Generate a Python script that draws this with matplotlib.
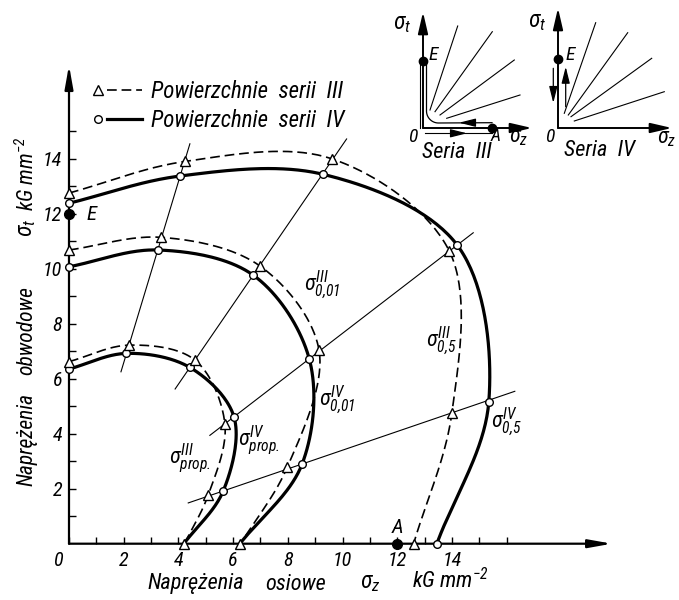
import numpy as np
import matplotlib
matplotlib.use("Agg")
import matplotlib.pyplot as plt
from matplotlib import font_manager
from matplotlib.lines import Line2D
from matplotlib.legend_handler import HandlerBase

# ---------------------------------------------------------------- data
# yield surfaces (sigma_z, sigma_t) in kG/mm^2, series III (triangles) and IV (circles)
prop_III_x = [0.0, 2.2, 4.6, 5.7, 5.09, 4.22]
prop_III_y = [6.62, 7.22, 6.68, 4.35, 1.77, 0.0]
prop_IV_x = [0.0, 2.1, 4.42, 6.03, 5.64, 4.2]
prop_IV_y = [6.35, 6.92, 6.41, 4.62, 1.92, 0.0]

p001_III_x = [0.0, 3.36, 6.98, 9.14, 7.98, 6.27]
p001_III_y = [10.68, 11.14, 10.1, 7.05, 2.78, 0.0]
p001_IV_x = [0.0, 3.24, 6.73, 8.79, 8.52, 6.25]
p001_IV_y = [10.07, 10.68, 9.77, 6.7, 2.89, 0.0]

p05_III_x = [0.0, 4.24, 9.6, 13.9, 14.0, 12.6]
p05_III_y = [12.75, 13.9, 14.0, 10.65, 4.76, 0.0]
p05_IV_x = [0.0, 4.06, 9.3, 14.2, 15.35, 13.45]
p05_IV_y = [12.38, 13.37, 13.43, 10.85, 5.17, 0.0]

# radial loading paths: slope sigma_t/sigma_z and drawn extent in sigma_z
ray_slopes = [3.29, 1.45, 0.765, 0.34]
ray_x_from = [1.9, 3.88, 5.15, 4.36]
ray_x_to = [4.42, 10.15, 14.78, 16.3]

point_E = (0.0, 12.0)
point_A = (12.0, 0.0)

x_major = [0, 2, 4, 6, 8, 10, 12, 14]
x_minor = [1, 3, 5, 7, 9, 11, 13, 15, 16]
y_major = [2, 4, 6, 8, 10, 12, 14]
y_minor = [1, 3, 5, 7, 9, 11, 13, 15]

# schematic insets (units: sketch coordinates, origin at the corner)
inset_III_rays = [(7, 18, 34.7, 102), (12, 16.3, 69.3, 96.3),
                  (17, 13, 91.3, 68), (23.7, 9.7, 97, 33)]
inset_IV_rays = [(6.3, 14.7, 37.7, 105.3), (10.3, 13, 69.7, 95.3),
                 (13, 11.3, 93.7, 69.7), (16.3, 7, 106.3, 36.3)]

# ---------------------------------------------------------------- style
fonts = font_manager.fontManager.ttflist
names = {f.name for f in fonts}
STRETCH = "normal"
if "Liberation Sans Narrow" in names:
    FAM = "Liberation Sans Narrow"
elif "Roboto Condensed" in names:
    FAM = "Roboto Condensed"
elif any(f.name == "DejaVu Sans" and f.stretch == "condensed" and f.style != "normal"
         for f in fonts):
    FAM, STRETCH = "DejaVu Sans", "condensed"
else:
    FAM = "Liberation Sans"

plt.rcParams.update({
    "font.family": [FAM, "DejaVu Sans"],
    "font.style": "italic",
    "font.stretch": STRETCH,
    "mathtext.fontset": "custom",
    "mathtext.rm": f"{FAM}:italic",
    "mathtext.it": f"{FAM}:italic",
    "mathtext.bf": f"{FAM}:italic:bold",
    "lines.scale_dashes": False,
})

DASH = (0, (7, 3.5))
LW_III, LW_IV, LW_RAY = 1.2, 2.3, 0.8
MS_TRI, MS_CIR = 7.5, 5.5
FS_TICK, FS_TITLE, FS_LAB = 14.5, 16, 15


def smooth_curve(xs, ys, n=40):
    """Centripetal Catmull-Rom curve through the given points."""
    P = np.column_stack([xs, ys]).astype(float)
    P = np.vstack([2 * P[0] - P[1], P, 2 * P[-1] - P[-2]])
    segs = []
    for i in range(len(P) - 3):
        p0, p1, p2, p3 = P[i:i + 4]
        t0 = 0.0
        t1 = t0 + np.hypot(*(p1 - p0)) ** 0.5
        t2 = t1 + np.hypot(*(p2 - p1)) ** 0.5
        t3 = t2 + np.hypot(*(p3 - p2)) ** 0.5
        t = np.linspace(t1, t2, n)[:, None]
        A1 = (t1 - t) / (t1 - t0) * p0 + (t - t0) / (t1 - t0) * p1
        A2 = (t2 - t) / (t2 - t1) * p1 + (t - t1) / (t2 - t1) * p2
        A3 = (t3 - t) / (t3 - t2) * p2 + (t - t2) / (t3 - t2) * p3
        B1 = (t2 - t) / (t2 - t0) * A1 + (t - t0) / (t2 - t0) * A2
        B2 = (t3 - t) / (t3 - t1) * A2 + (t - t1) / (t3 - t1) * A3
        C = (t2 - t) / (t2 - t1) * B1 + (t - t1) / (t2 - t1) * B2
        segs.append(C if i == 0 else C[1:])
    out = np.vstack(segs)
    return out[:, 0], out[:, 1]


W, H = 679, 600
fig = plt.figure(figsize=(W / 100, H / 100), dpi=100)

X0, Y0 = 69, 543.7          # pixel position of the origin
SX, SY = 27.35, 27.5        # pixels per kG/mm^2
XMAX, YMAX = 20.0, 17.6
ax = fig.add_axes([X0 / W, (H - Y0) / H, XMAX * SX / W, YMAX * SY / H])
ax.set_xlim(0, XMAX)
ax.set_ylim(0, YMAX)
for s in ax.spines.values():
    s.set_visible(False)

# axes with arrow heads
arrow_kw = dict(arrowstyle="-|>,head_length=1.4,head_width=0.25", lw=1.6,
                color="k", shrinkA=0, shrinkB=0, mutation_scale=10)
ax.annotate("", xy=(19.85, 0), xytext=(0, 0), arrowprops=arrow_kw, annotation_clip=False)
ax.annotate("", xy=(0, 17.4), xytext=(0, 0), arrowprops=arrow_kw, annotation_clip=False)

ax.set_xticks(x_major)
ax.set_xticklabels([""] + [str(v) for v in x_major[1:]])
ax.set_xticks(x_minor, minor=True)
ax.set_yticks(y_major)
ax.set_yticklabels([str(v) for v in y_major])
ax.set_yticks(y_minor, minor=True)
ax.tick_params(which="both", direction="in", length=5, width=1.0,
               labelsize=FS_TICK, pad=5)
ax.annotate(str(x_major[0]), xy=(0, 0), xytext=(-11, -17), textcoords="offset pixels",
            ha="center", va="center", fontsize=FS_TICK)

# radial loading paths
for k, x_a, x_b in zip(ray_slopes, ray_x_from, ray_x_to):
    ax.plot([x_a, x_b], [k * x_a, k * x_b], color="k", lw=LW_RAY, zorder=2, clip_on=False)

# yield curves
curves = [
    (prop_III_x, prop_III_y, "III", None),
    (prop_IV_x, prop_IV_y, "IV", slice(0, 5)),
    (p001_III_x, p001_III_y, "III", None),
    (p001_IV_x, p001_IV_y, "IV", slice(0, 5)),
    (p05_III_x, p05_III_y, "III", None),
    (p05_IV_x, p05_IV_y, "IV", None),
]
for xs, ys, ser, mev in curves:
    cx, cy = smooth_curve(xs, ys)
    if ser == "III":
        ax.plot(cx, cy, color="k", lw=LW_III, ls=DASH, zorder=3, clip_on=False)
        ax.plot(xs, ys, ls="none", marker="^", ms=MS_TRI, mfc="white", mec="k",
                mew=1.0, zorder=6, clip_on=False)
    else:
        ax.plot(cx, cy, color="k", lw=LW_IV, zorder=4, clip_on=False,
                solid_capstyle="butt")
        ax.plot(xs, ys, ls="none", marker="o", ms=MS_CIR, mfc="white", mec="k",
                mew=1.0, zorder=5, clip_on=False, markevery=mev)

# starting points E and A
ax.plot(*point_E, "o", color="k", ms=7, zorder=7, clip_on=False)
ax.plot(*point_A, "o", color="k", ms=7, zorder=7, clip_on=False)
ax.annotate("E", xy=point_E, xytext=(18, -1), textcoords="offset pixels",
            ha="left", va="center", fontsize=FS_LAB)
ax.annotate("A", xy=point_A, xytext=(0, 16), textcoords="offset pixels",
            ha="center", va="center", fontsize=FS_LAB)

# curve labels
labels = [
    (r"$\sigma^{III}_{0{,}01}$", 9.25, 9.41),
    (r"$\sigma^{IV}_{0{,}01}$", 9.8, 5.23),
    (r"$\sigma^{III}_{0{,}5}$", 13.6, 7.4),
    (r"$\sigma^{IV}_{0{,}5}$", 16.0, 4.45),
    (r"$\sigma^{IV}_{prop.}$", 6.95, 3.77),
    (r"$\sigma^{III}_{prop.}$", 4.42, 3.1),
]
for txt, lx, ly in labels:
    ax.text(lx, ly, txt, ha="center", va="center", fontsize=16)


# legend: marker at the left end, then the line sample
class MarkerLineHandler(HandlerBase):
    def create_artists(self, legend, orig_handle, xdescent, ydescent,
                       width, height, fontsize, trans):
        y = height / 2 - ydescent
        x0 = -xdescent
        ln = Line2D([x0 + 11, x0 + width], [y, y])
        ln.update_from(orig_handle)
        ln.set_marker("None")
        ln.set_transform(trans)
        mk = Line2D([x0 + 4], [y], ls="none", marker=orig_handle.get_marker(),
                    ms=orig_handle.get_markersize(), mfc="white", mec="k", mew=1.0,
                    transform=trans)
        return [ln, mk]


h3 = Line2D([], [], color="k", lw=LW_III, ls=DASH, marker="^", ms=MS_TRI)
h4 = Line2D([], [], color="k", lw=LW_IV, marker="o", ms=MS_CIR)
ax.legend(handles=[h3, h4], labels=["Powierzchnie  serii  III", "Powierzchnie  serii  IV"],
          handler_map={Line2D: MarkerLineHandler()}, loc="upper left",
          bbox_to_anchor=(92 / W, 1 - 80 / H), bbox_transform=fig.transFigure,
          frameon=False, fontsize=16.5, handlelength=2.2, handletextpad=0.36,
          labelspacing=0.28, borderpad=0, borderaxespad=0)


def ftext(px, py, s, **kw):
    fig.text(px / W, 1 - py / H, s, ha="center", va="center", **kw)


# axis titles
ftext(196, 584, "Naprężenia", fontsize=FS_TITLE)
ftext(296, 584, "osiowe", fontsize=FS_TITLE)
ftext(370, 583, r"$\sigma_z$", fontsize=17)
ftext(450, 581, r"kG mm$^{-2}$", fontsize=FS_TITLE)

ftext(27, 440, "Naprężenia", fontsize=15.5, rotation=90)
ftext(27, 331, "obwodowe", fontsize=15.5, rotation=90)
ftext(27, 228, r"$\sigma_t$", fontsize=17, rotation=90)
ftext(27, 174, r"kG mm$^{-2}$", fontsize=15.5, rotation=90)


# ---------------------------------------------------------------- insets
def sketch_axes(left, top, w, h, ox, oy):
    a = fig.add_axes([left / W, (H - top - h) / H, w / W, h / H])
    a.set_xlim(left - ox, left + w - ox)
    a.set_ylim(oy - (top + h), oy - top)
    a.axis("off")
    return a


small_arrow = dict(arrowstyle="-|>,head_length=1.3,head_width=0.3", lw=1.4,
                   color="k", shrinkA=0, shrinkB=0, mutation_scale=10)
tiny_arrow = dict(arrowstyle="-|>,head_length=1.0,head_width=0.25", lw=0.9,
                  color="k", shrinkA=0, shrinkB=0, mutation_scale=10)

# Seria III
s3 = sketch_axes(395, 0, 150, 160, 423, 128)
s3.annotate("", xy=(0, 116), xytext=(0, 0), arrowprops=small_arrow)
s3.annotate("", xy=(109, 0), xytext=(0, 0), arrowprops=small_arrow)
for ua, va, ub, vb in inset_III_rays:
    s3.plot([ua, ub], [va, vb], color="k", lw=0.8)
s3.plot([-3.5, -3.5], [67, 0], color="k", lw=0.8)
s3.plot([2, 69], [-5.3, -5.3], color="k", lw=0.8)
ang = np.linspace(np.pi, 1.5 * np.pi, 20)
path_u = np.concatenate([[3.5], 15.5 + 12 * np.cos(ang), [69]])
path_v = np.concatenate([[67], 17 + 12 * np.sin(ang), [5.3]])
s3.plot(path_u, path_v, color="k", lw=0.9)
s3.annotate("", xy=(36, 5.3), xytext=(48, 5.3), arrowprops=tiny_arrow)
s3.annotate("", xy=(44, -5.3), xytext=(32, -5.3), arrowprops=tiny_arrow)
s3.plot([0], [67], "o", color="k", ms=6)
s3.plot([69], [0], "o", color="k", ms=6)
s3.text(-21, 105, r"$\sigma_t$", fontsize=17, ha="center", va="center")
s3.text(10.5, 73, "E", fontsize=14, ha="center", va="center")
s3.text(-10, -8.7, "0", fontsize=14, ha="center", va="center")
s3.text(73, -8, "A", fontsize=13, ha="center", va="center")
s3.text(96, -9.5, r"$\sigma_z$", fontsize=16, ha="center", va="center")
s3.text(34, -24, "Seria  III", fontsize=16, ha="center", va="center")

# Seria IV
s4 = sketch_axes(530, 0, 149, 160, 558, 128)
s4.annotate("", xy=(0, 120), xytext=(0, 0), arrowprops=small_arrow)
s4.annotate("", xy=(114, 0), xytext=(0, 0), arrowprops=small_arrow)
for ua, va, ub, vb in inset_IV_rays:
    s4.plot([ua, ub], [va, vb], color="k", lw=0.8)
s4.annotate("", xy=(-4.7, 25), xytext=(-4.7, 59.7), arrowprops=tiny_arrow)
s4.annotate("", xy=(7.7, 61.3), xytext=(7.7, 21.3), arrowprops=tiny_arrow)
s4.plot([0], [68.7], "o", color="k", ms=6)
s4.text(-21.3, 106.3, r"$\sigma_t$", fontsize=17, ha="center", va="center")
s4.text(12, 73, "E", fontsize=14, ha="center", va="center")
s4.text(-8, -8.7, "0", fontsize=14, ha="center", va="center")
s4.text(109, -10.5, r"$\sigma_z$", fontsize=16, ha="center", va="center")
s4.text(42, -22, "Seria  IV", fontsize=16, ha="center", va="center")

fig.savefig("out.png", dpi=100)
